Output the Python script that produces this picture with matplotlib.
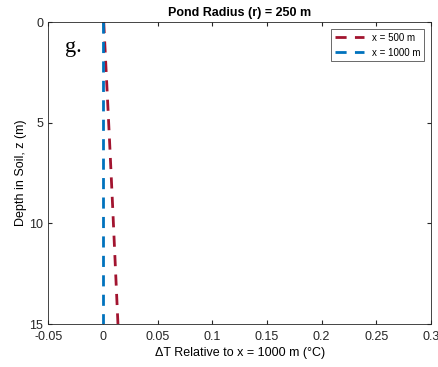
import numpy as np
import matplotlib
matplotlib.use('Agg')
import matplotlib.pyplot as plt

plt.rcParams['font.family'] = ['Liberation Sans', 'DejaVu Sans']

depth = [0, 3, 6, 9, 12, 15]
dt_500 = [0.0008, 0.0035, 0.0062, 0.0088, 0.0113, 0.0138]
dt_1000 = [0, 0, 0, 0, 0, 0]

fig = plt.figure(figsize=(4.38, 3.67), dpi=100)
ax = fig.add_axes([0.110, 0.117, 0.874, 0.823])

ax.plot(dt_500, depth, '--', color='#a2142f', lw=2, dashes=(4, 3), label='x = 500 m')
ax.plot(dt_1000, depth, '--', color='#0072bd', lw=2, dashes=(4, 3), label='x = 1000 m')

ax.set_xlim(-0.05, 0.3)
ax.set_ylim(15, 0)
ax.set_xticks([-0.05, 0, 0.05, 0.1, 0.15, 0.2, 0.25, 0.3])
ax.set_xticklabels(['-0.05', '0', '0.05', '0.1', '0.15', '0.2', '0.25', '0.3'])
ax.set_yticks([0, 5, 10, 15])
ax.tick_params(direction='in', top=True, right=True, labelsize=9, length=3,
               color='#262626', labelcolor='#262626')
ax.tick_params(axis='x', pad=5)
for s in ax.spines.values():
    s.set_color('#262626')
    s.set_linewidth(0.6)

ax.set_xlabel('\u0394T Relative to x = 1000 m (\u00b0C)', fontsize=9, labelpad=3)
ax.set_ylabel('Depth in Soil, z (m)', fontsize=9, labelpad=2)
ax.set_title('Pond Radius (r) = 250 m', fontsize=9, fontweight='bold', pad=4)

ax.text(0.045, 0.9, 'g.', transform=ax.transAxes, fontsize=16, family='Liberation Serif')

leg = ax.legend(loc='upper right', fontsize=7, frameon=True, fancybox=False,
                edgecolor='#262626', handlelength=3, borderaxespad=0.7)
leg.get_frame().set_linewidth(0.6)

fig.savefig('out.png', dpi=100)
